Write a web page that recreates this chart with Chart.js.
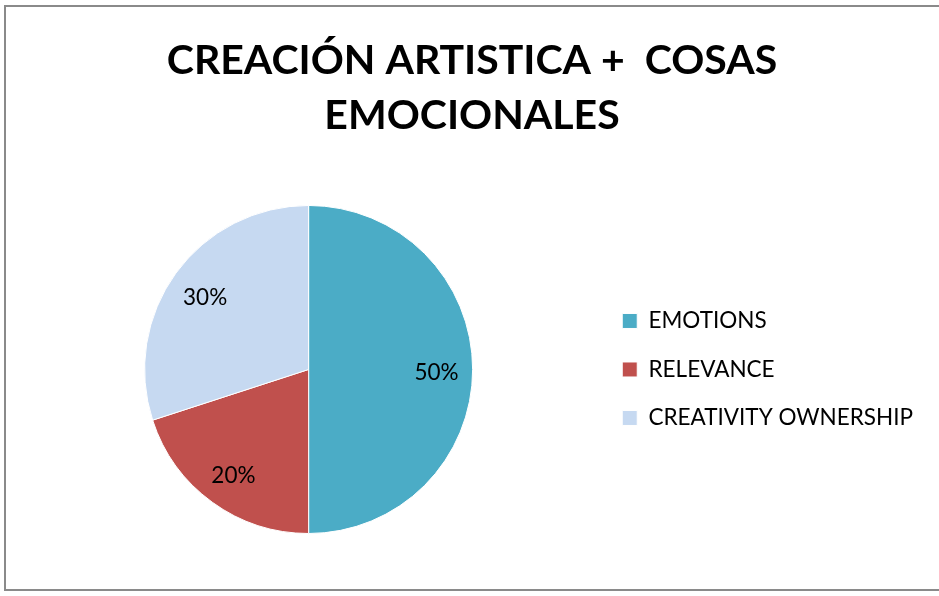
<!DOCTYPE html>
<html><head><meta charset="utf-8">
<script src="https://cdn.jsdelivr.net/npm/chart.js@4.4.1/dist/chart.umd.min.js"></script>
<style>
html,body{margin:0;padding:0;background:#fff;}
#wrap{position:relative;width:939px;height:596px;overflow:hidden;}
#c{position:absolute;left:0;top:0;}
#frame{position:absolute;left:4px;top:5px;width:960px;height:582px;border:2px solid #8a8a8a;pointer-events:none;}
</style></head>
<body><div id="wrap"><canvas id="c" width="939" height="596"></canvas><div id="frame"></div></div>
<script>
const titleLines = ["CREACIÓN ARTISTICA +  COSAS", "EMOCIONALES"];
const categories = ["EMOTIONS", "RELEVANCE", "CREATIVITY OWNERSHIP"];
const values = [50, 20, 30];
const colors = ["#4BACC6", "#C0504D", "#C6D9F1"];

const FONT = "Lato";

const pctLabels = {
  id: 'pctLabels',
  afterDatasetsDraw(chart) {
    const ctx = chart.ctx;
    const meta = chart.getDatasetMeta(0);
    const ds = chart.data.datasets[0];
    const total = ds.data.reduce((a, b) => a + b, 0);
    ctx.save();
    ctx.font = "22.5px " + FONT;
    ctx.fillStyle = "#000";
    ctx.textAlign = "center";
    ctx.textBaseline = "middle";
    meta.data.forEach((arc, i) => {
      const p = arc.getProps(['x', 'y', 'startAngle', 'endAngle', 'outerRadius'], true);
      const mid = (p.startAngle + p.endAngle) / 2;
      const d = p.outerRadius * 0.78;
      ctx.fillText(Math.round(ds.data[i] / total * 100) + "%", p.x + Math.cos(mid) * d, p.y + Math.sin(mid) * d + 3);
    });
    ctx.restore();
  }
};

Chart.defaults.font.family = FONT;
new Chart(document.getElementById('c'), {
  type: 'pie',
  data: {
    labels: categories,
    datasets: [{ data: values, backgroundColor: colors, borderColor: "#ffffff", borderWidth: 1 }]
  },
  options: {
    responsive: false,
    animation: false,
    devicePixelRatio: 1,
    layout: { padding: { left: 21, right: 16, top: 0, bottom: 62 } },
    plugins: {
      title: {
        display: true,
        text: titleLines,
        color: "#000",
        font: { family: FONT, size: 41, weight: 'bold', lineHeight: 1.341 },
        padding: { top: 33, bottom: 62 }
      },
      legend: {
        position: 'right',
        fullSize: false,
        labels: {
          color: "#000",
          font: { family: FONT, size: 22.5 },
          boxWidth: 15, boxHeight: 15,
          padding: 26
        }
      },
      tooltip: { enabled: false }
    }
  },
  plugins: [pctLabels]
});
</script>
</body></html>
